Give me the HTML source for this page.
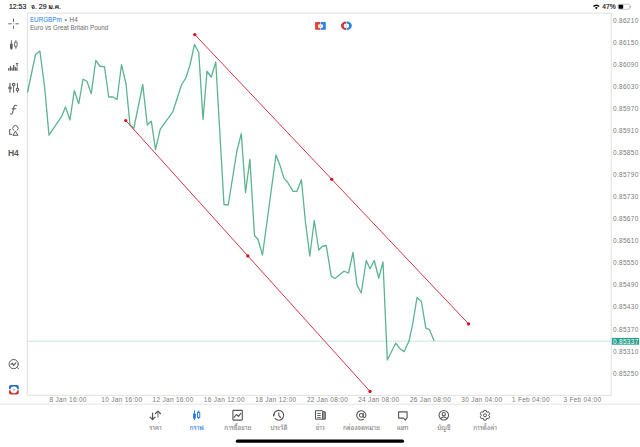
<!DOCTYPE html>
<html><head><meta charset="utf-8"><style>
html,body{margin:0;padding:0;background:#fff;}
body{width:640px;height:447px;overflow:hidden;}
svg{display:block;}
text{font-family:"Liberation Sans","Noto Sans Thai Looped",sans-serif;}
</style></head><body>
<svg width="640" height="447" viewBox="0 0 640 447">
<rect width="640" height="447" fill="#fff"/>
<!-- status bar -->
<text x="9" y="9" font-size="6.9" fill="#111" stroke="#111" stroke-width="0.15">12:53</text>
<text x="31.3" y="9" font-size="6.9" fill="#111" stroke="#111" stroke-width="0.15">จ. 29 ม.ค.</text>
<path d="M592.9,5.9 A4.6,4.6 0 0 1 599.7,5.9 L598.6,7 A3.1,3.1 0 0 0 594,7 Z M594.8,7.8 A2.1,2.1 0 0 1 597.8,7.8 L596.3,9.3 Z" fill="#111"/>
<text x="602.3" y="9" font-size="6.7" fill="#111" stroke="#111" stroke-width="0.15">47%</text>
<rect x="618.1" y="4.2" width="11.6" height="5.1" rx="1.4" fill="none" stroke="#a0a0a0" stroke-width="0.6"/>
<rect x="618.6" y="4.7" width="4.6" height="4.1" rx="0.7" fill="#000"/>
<path d="M630.3,5.9 V7.7 A0.9,0.9 0 0 0 630.3,5.9" fill="#a0a0a0"/>
<!-- chart border -->
<path d="M27.4,13.1 H611.25 V395.4 H27.4 Z" fill="none" stroke="#dedede" stroke-width="0.9"/>
<!-- title -->
<text x="29.9" y="21.7" font-size="6.3" fill="#2a7ce8">EURGBPm</text>
<text x="64.5" y="21.7" font-size="6.3" fill="#2a7ce8">•</text>
<text x="69.6" y="21.7" font-size="6.3" fill="#666">H4</text>
<text x="29.9" y="29.5" font-size="6.3" fill="#6d6d6d">Euro vs Great Britain Pound</text>

<rect x="315.1" y="21.9" width="5.2" height="7.9" rx="0.4" fill="#e0453a"/>
<rect x="320.7" y="21.9" width="5.1" height="7.9" rx="0.4" fill="#2d7fe6"/>
<rect x="320.2" y="21.9" width="0.6" height="7.9" fill="#a8cdf5"/>
<rect x="318" y="24.2" width="5.1" height="3.7" rx="1.4" fill="#f4f4f6"/>
<path d="M319.4,25.2 V27 M320.4,25.2 V27 M321.4,25.4 V26.8" stroke="#b4b4bc" stroke-width="0.6"/>
<path d="M346.15,21.6 A5.2,4.2 0 0 0 346.15,30 V28.3 A2.5,2.45 0 0 1 346.15,23.4 Z" fill="#cc3b3b"/>
<path d="M346.65,21.6 A5.2,4.2 0 0 1 346.65,30 V28.3 A2.5,2.45 0 0 0 346.65,23.4 Z" fill="#2a7ee2"/>
<path d="M346.3,24.4 V27.4 L347,27.6" stroke="#aab" stroke-width="0.6" fill="none"/>

<!-- current price line -->
<line x1="27.4" y1="341.2" x2="611.25" y2="341.2" stroke="#6bbd9d" stroke-width="0.8" stroke-dasharray="0.9,1.1"/>
<!-- chart line -->
<polyline points="27.50,92.50 35.50,54.50 39.90,51.10 44.60,87.00 49.00,135.10 61.60,116.40 65.50,107.00 70.00,120.00 74.25,90.75 78.75,103.75 83.00,79.25 87.00,81.25 91.25,93.75 95.75,60.50 100.00,66.25 104.50,66.75 108.75,97.00 113.00,97.00 117.00,99.50 121.50,64.75 126.00,83.75 130.00,125.00 133.75,128.50 142.75,84.50 147.25,125.00 151.30,121.20 155.50,149.50 160.30,129.20 172.80,111.80 181.50,85.00 186.00,77.50 190.00,65.00 194.50,44.50 198.75,52.50 203.00,119.50 207.00,71.25 211.25,77.00 215.75,62.00 224.00,204.50 228.25,205.00 236.90,151.00 241.30,133.60 245.50,192.50 249.90,159.40 254.50,235.50 258.00,239.50 262.50,255.00 276.00,155.00 280.20,166.00 284.00,178.10 287.75,182.50 293.10,191.30 296.90,191.30 301.40,179.80 305.50,222.50 309.80,256.00 314.25,220.50 318.75,250.00 322.50,246.25 326.25,245.50 331.25,276.25 335.00,278.50 344.00,271.25 348.50,273.00 353.00,252.50 357.00,285.00 361.25,293.00 366.25,260.50 370.00,268.75 374.25,260.50 378.75,278.00 383.00,262.00 387.30,360.00 395.70,343.20 400.40,349.20 404.20,351.60 408.90,341.30 412.60,324.40 417.00,297.50 421.40,301.50 425.80,328.20 429.50,329.70 434.20,340.90" fill="none" stroke="#5ab490" stroke-width="1.3" stroke-linejoin="round"/>
<!-- channel -->
<line x1="194.8" y1="34.6" x2="468.6" y2="323.9" stroke="#d43444" stroke-width="1"/>
<line x1="125.75" y1="120.5" x2="370.0" y2="391.4" stroke="#d43444" stroke-width="1"/>
<g fill="#d80818">
<circle cx="194.8" cy="34.6" r="1.6"/><circle cx="468.6" cy="323.9" r="1.6"/>
<circle cx="125.75" cy="120.5" r="1.6"/><circle cx="370.0" cy="391.4" r="1.6"/>
<circle cx="331.70" cy="179.25" r="1.6"/><circle cx="247.88" cy="255.95" r="1.6"/>
</g>
<!-- price axis -->
<g font-size="6.5" letter-spacing="0.3" fill="#7a7a7a">
<text x="613" y="23.10">0.86210</text>
<text x="613" y="45.13">0.86150</text>
<text x="613" y="67.16">0.86090</text>
<text x="613" y="89.19">0.86030</text>
<text x="613" y="111.22">0.85970</text>
<text x="613" y="133.25">0.85910</text>
<text x="613" y="155.28">0.85850</text>
<text x="613" y="177.31">0.85790</text>
<text x="613" y="199.34">0.85730</text>
<text x="613" y="221.37">0.85670</text>
<text x="613" y="243.40">0.85610</text>
<text x="613" y="265.43">0.85550</text>
<text x="613" y="287.46">0.85490</text>
<text x="613" y="309.49">0.85430</text>
<text x="613" y="331.52">0.85370</text>
<text x="613" y="353.55">0.85310</text>
<text x="613" y="375.58">0.85250</text>
</g>
<rect x="611.9" y="337.9" width="27.2" height="6.8" fill="#27a08a"/>
<text x="613" y="343.6" font-size="6.5" letter-spacing="0.3" fill="#fff">0.85337</text>
<!-- time axis -->
<g font-size="6.5" letter-spacing="0.3" fill="#7a7a7a">
<text x="49.5" y="401.8">8 Jan 16:00</text>
<text x="101.25" y="401.8">10 Jan 16:00</text>
<text x="152.5" y="401.8">12 Jan 16:00</text>
<text x="203.75" y="401.8">16 Jan 12:00</text>
<text x="255.3" y="401.8">18 Jan 12:00</text>
<text x="306.9" y="401.8">22 Jan 08:00</text>
<text x="358.2" y="401.8">24 Jan 08:00</text>
<text x="409.9" y="401.8">26 Jan 08:00</text>
<text x="461.25" y="401.8">30 Jan 04:00</text>
<text x="511.9" y="401.8">1 Feb 04:00</text>
<text x="563.4" y="401.8">3 Feb 04:00</text>
</g>
<line x1="0" y1="404.2" x2="640" y2="404.2" stroke="#e2e2e2" stroke-width="0.9"/>
<!-- left toolbar -->

<!-- crosshair -->
<g stroke="#6a6a6a" stroke-width="1">
<path d="M13.5,18.6 V21.8 M13.5,25.7 V28.9 M8.2,23.8 H11.7 M15.4,23.8 H18.8"/>
</g>
<circle cx="13.5" cy="23.8" r="0.45" fill="#5a5a5a"/>
<!-- candles -->
<g stroke="#5a5a5a" stroke-width="0.9" fill="none">
<path d="M11.35,40.2 V49.8 M15.85,40.2 V48.8"/>
<rect x="10.05" y="43.7" width="2.6" height="5.0" fill="#5a5a5a" stroke="none"/>
<rect x="14.6" y="42.2" width="2.5" height="4.5" fill="#fff" rx="0.3"/>
</g>
<!-- volumes -->
<g fill="#5a5a5a">
<rect x="8.2" y="68" width="1.25" height="2.7"/>
<rect x="9.85" y="66.1" width="1.25" height="4.6"/>
<rect x="11.45" y="67.7" width="1.25" height="3"/>
<rect x="13.05" y="65" width="1.25" height="5.7"/>
<rect x="14.7" y="67" width="1.25" height="3.7"/>
<rect x="16.3" y="67.4" width="1.3" height="3.3"/>
<path d="M15.4,62.9 H18.6 L17.6,64 V66.4 H16.5 V64 Z"/>
</g>
<!-- sliders -->
<path d="M10,83.1 V92.7" stroke="#8a8a8a" stroke-width="1.5"/>
<ellipse cx="10" cy="88" rx="1.85" ry="1.45" fill="#6a6a6a"/>
<g stroke="#5a5a5a" stroke-width="1" fill="none">
<path d="M13.65,85.9 V92.7 M17.45,83.2 V88.2 M17.45,90.8 V92.7"/>
<circle cx="13.7" cy="84.55" r="1.25" fill="#e8e8e8" stroke-width="1.1"/>
<circle cx="17.45" cy="89.5" r="1.2" fill="#f0f0f0" stroke-width="1.1"/>
</g>
<!-- f -->
<g stroke="#5a5a5a" stroke-width="1.1" fill="none" stroke-linecap="round">
<path d="M16.7,105.6 C15.3,104.7 14.1,105.5 13.7,107.5 L12.8,112 C12.4,113.8 11.5,114.5 10.5,114.1"/>
<path d="M12.1,108.8 H15.8"/>
</g>
<!-- shapes -->
<g stroke="#5a5a5a" stroke-width="1" fill="none" stroke-linejoin="round">
<path d="M13.9,130.4 A2.65,2.65 0 1 1 16.9,130.4"/>
<path d="M15.4,131.2 L17.9,135.3 H12.9 Z"/>
<path d="M10.9,129.6 H9.6 V134.4 H12"/>
</g>
<!-- H4 -->
<text x="13.4" y="155.7" font-size="8.5" font-weight="bold" text-anchor="middle" fill="#5a5a5a">H4</text>
<!-- magnifier -->
<g stroke="#5a5a5a" stroke-width="1" fill="none" stroke-linecap="round" stroke-linejoin="round">
<circle cx="13.7" cy="364.1" r="4.6"/>
<path d="M17.2,367.5 L18.6,368.9"/>
<path d="M11.1,364.4 L12.4,363.2 L13.6,365.4 L15.8,362.8" stroke-width="1.15"/>
</g>
<!-- one click -->
<g>
<path d="M10.8,384.9 H17 A1.8,1.8 0 0 1 18.8,386.7 V389.3 H9 V386.7 A1.8,1.8 0 0 1 10.8,384.9 Z" fill="#2b6fca"/>
<path d="M9,390.2 H18.8 V392.8 A1.8,1.8 0 0 1 17,394.6 H10.8 A1.8,1.8 0 0 1 9,392.8 Z" fill="#d1352f"/>
<circle cx="13.9" cy="389.8" r="3.4" fill="#fff"/>
<path d="M13.9,387.9 L14.4,389.3 L15.8,389.8 L14.4,390.3 L13.9,391.7 L13.4,390.3 L12,389.8 L13.4,389.3 Z" fill="#a9b6c6"/>
</g>

<!-- nav -->
<g stroke-width="1.25" fill="none" stroke-linecap="round" stroke-linejoin="round">
<path d="M152.55,413.1 V419.3" stroke="#555"/><path d="M150.1,417.1 L152.55,419.5 L155,417.1" stroke="#555"/>
<path d="M157.95,417.1 V411.6" stroke="#8c8c8c"/><path d="M155.5,413.5 L157.95,411.1 L160.4,413.5" stroke="#555"/></g><g stroke="#1f74e6" stroke-width="0.95" fill="none">
<path d="M194.45,410.4 V420.1 M198.65,410.6 V419"/>
<rect x="193.1" y="413.6" width="2.7" height="4.9" fill="#1f74e6" stroke="none"/>
<rect x="197.55" y="412.3" width="2.2" height="5.1" fill="#fff"/></g><g stroke="#555555" stroke-width="1.1" fill="none" stroke-linejoin="round" stroke-linecap="round">
<rect x="232.9" y="410.4" width="9.4" height="9.7" rx="0.5"/>
<path d="M234.1,417.3 L236.35,414.5 L238.5,416.4 L240.8,413.3"/></g><g stroke="#555555" stroke-width="1.1" fill="none" stroke-linecap="round" stroke-linejoin="round">
<path d="M273.92,414.5 A4.9,4.9 0 1 1 275.17,418.69"/>
<path d="M273.85,414.3 L273.7,415.8" stroke-width="1.5"/>
<path d="M278.8,412.7 V415.6 L280.6,417.5"/></g><g stroke="#555555" stroke-width="1" fill="none" stroke-linejoin="round">
<rect x="322.7" y="411.9" width="2.6" height="7.3" fill="#9a9a9a" stroke="none"/>
<path d="M315.5,410.7 H322.4 L323.5,411.8 H325.3 V419.2 H315.5 Z"/>
<path d="M322.6,411 V419.2"/>
<path d="M317.2,413.45 H320.8 M317.2,415.5 H320.8 M317.2,417.6 H320.8" stroke-width="0.9"/></g><g stroke="#555555" stroke-width="1.05" fill="none" stroke-linecap="round">
<circle cx="361.3" cy="415.3" r="1.9"/>
<path d="M363.2,413.2 V416.1 Q363.2,417.6 364.6,417.6 Q365.9,417.6 365.9,415.3 A4.6,4.6 0 1 0 363.6,419.3"/></g><g stroke="#555555" stroke-width="1.1" fill="none" stroke-linejoin="round">
<path d="M398.6,411.9 H407.1 V417.7 L405.3,420.1 L403.5,418.1 H398.6 Z"/></g><g stroke="#555555" stroke-width="1.05" fill="none">
<circle cx="443.8" cy="415.3" r="4.75"/>
<circle cx="443.75" cy="414.2" r="1.65"/>
<path d="M440.2,418.9 Q443.75,414.9 447.3,418.9"/></g><g stroke="#555555" stroke-width="1" fill="none" stroke-linejoin="round">
<path d="M483.88,410.43 L486.12,410.43 L486.77,412.23 L488.66,411.89 L489.78,413.84 L488.55,415.30 L489.78,416.76 L488.66,418.71 L486.77,418.37 L486.12,420.17 L483.88,420.17 L483.23,418.37 L481.34,418.71 L480.22,416.76 L481.45,415.30 L480.22,413.84 L481.34,411.89 L483.23,412.23 Z"/><circle cx="485.0" cy="415.3" r="1.5"/></g>
<g font-size="6.4">
<text x="155.50" y="429.6" text-anchor="middle" fill="#7a7a7a">ราคา</text>
<text x="196.69" y="429.6" text-anchor="middle" fill="#1f74e6">กราฟ</text>
<text x="237.88" y="429.6" text-anchor="middle" fill="#7a7a7a">การซื้อขาย</text>
<text x="279.07" y="429.6" text-anchor="middle" fill="#7a7a7a">ประวัติ</text>
<text x="320.26" y="429.6" text-anchor="middle" fill="#7a7a7a">ข่าว</text>
<text x="361.45" y="429.6" text-anchor="middle" fill="#7a7a7a">กล่องจดหมาย</text>
<text x="402.64" y="429.6" text-anchor="middle" fill="#7a7a7a">แชท</text>
<text x="443.83" y="429.6" text-anchor="middle" fill="#7a7a7a">บัญชี</text>
<text x="485.02" y="429.6" text-anchor="middle" fill="#7a7a7a">การตั้งค่า</text>
</g>
<!-- home indicator -->
<rect x="235.8" y="439.5" width="168.3" height="3.3" rx="1.65" fill="#000"/>
</svg>
</body></html>
